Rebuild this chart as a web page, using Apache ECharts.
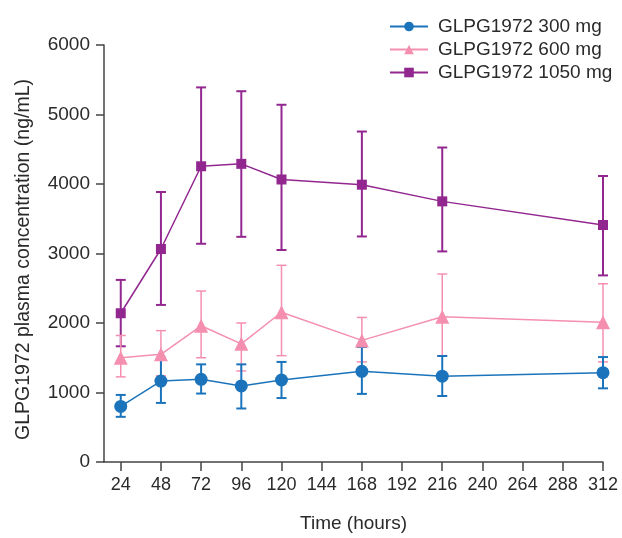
<!DOCTYPE html>
<html>
<head>
<meta charset="utf-8">
<script src="https://cdn.jsdelivr.net/npm/echarts@6/dist/echarts.min.js"></script>
<style>
  html, body { margin: 0; padding: 0; background: #fff; }
  #chart { width: 622px; height: 538px; }
</style>
</head>
<body>
<div id="chart"></div>
<script>
// time points (hours)
var hours = [24, 48, 72, 96, 120, 168, 216, 312];
var xTicks = [24, 48, 72, 96, 120, 144, 168, 192, 216, 240, 264, 288, 312];

// 300 mg
var mean300 = [800, 1165, 1190, 1095, 1180, 1305, 1235, 1285];
var low300 = [650, 850, 985, 770, 920, 980, 950, 1060];
var high300 = [965, 1500, 1405, 1405, 1440, 1655, 1525, 1510];

// 600 mg
var mean600 = [1500, 1550, 1960, 1700, 2155, 1750, 2090, 2010];
var low600 = [1225, 1240, 1500, 1310, 1530, 1440, 1530, 1440];
var high600 = [1820, 1890, 2460, 2000, 2830, 2080, 2705, 2565];

// 1050 mg
var mean1050 = [2140, 3065, 4255, 4290, 4065, 3990, 3750, 3410];
var low1050 = [1665, 2260, 3140, 3240, 3050, 3245, 3030, 2685];
var high1050 = [2620, 3885, 5390, 5335, 5140, 4755, 4525, 4115];

var names = ["GLPG1972 300 mg", "GLPG1972 600 mg", "GLPG1972 1050 mg"];
var colors = ["#1b74bb", "#f48fb0", "#92278f"];

var chart = echarts.init(document.getElementById("chart"));

function pairs(mean) {
  return hours.map(function (h, i) { return [h, mean[i]]; });
}

function errorSeries(low, high, color, lw, z) {
  return {
    type: "custom",
    name: "err",
    z: z,
    silent: true,
    data: hours.map(function (h, i) { return [h, low[i], high[i]]; }),
    encode: { x: 0, y: [1, 2] },
    renderItem: function (params, api) {
      var lo = api.coord([api.value(0), api.value(1)]);
      var hi = api.coord([api.value(0), api.value(2)]);
      var w = 5;
      var st = { stroke: color, lineWidth: lw };
      return {
        type: "group",
        children: [
          { type: "line", shape: { x1: lo[0], y1: lo[1], x2: hi[0], y2: hi[1] }, style: st },
          { type: "line", shape: { x1: lo[0] - w, y1: lo[1], x2: lo[0] + w, y2: lo[1] }, style: st },
          { type: "line", shape: { x1: hi[0] - w, y1: hi[1], x2: hi[0] + w, y2: hi[1] }, style: st }
        ]
      };
    }
  };
}

function lineSeries(name, mean, color, symbol, size, z) {
  return {
    type: "line",
    name: name,
    z: z,
    data: pairs(mean),
    symbol: symbol,
    symbolSize: size,
    showAllSymbol: true,
    color: color,
    lineStyle: { color: color, width: 1.5 },
    itemStyle: { color: color }
  };
}

var txt = "#2a2a2a";
var font = "Liberation Sans, Arial, sans-serif";

var option = {
  animation: false,
  textStyle: { fontFamily: font },
  grid: { left: 104, right: 19, top: 45, bottom: 72 },
  legend: {
    orient: "vertical",
    left: 389,
    top: 17,
    padding: 0,
    data: names,
    itemWidth: 38,
    itemHeight: 12,
    itemGap: 4,
    textStyle: { fontSize: 19, color: txt, fontFamily: font, padding: [0, 0, 0, 5] }
  },
  xAxis: {
    type: "value",
    min: 14,
    max: 312,
    name: "Time (hours)",
    nameLocation: "middle",
    nameGap: 52,
    nameTextStyle: { fontSize: 19, color: txt },
    axisLine: { show: true, lineStyle: { color: "#444", width: 1.5 } },
    axisTick: { show: true, length: 9, customValues: xTicks, lineStyle: { color: "#444", width: 1.5 } },
    axisLabel: { fontSize: 18, color: txt, margin: 14, customValues: xTicks },
    splitLine: { show: false }
  },
  yAxis: {
    type: "value",
    min: 0,
    max: 6000,
    interval: 1000,
    name: "GLPG1972 plasma concentration (ng/mL)",
    nameLocation: "middle",
    nameGap: 70,
    nameTextStyle: { fontSize: 19.5, color: txt, padding: [0, 0, 0, -12] },
    axisLine: { show: true, lineStyle: { color: "#444", width: 1.5 } },
    axisTick: { show: true, length: 8, lineStyle: { color: "#444", width: 1.5 } },
    axisLabel: { fontSize: 19, color: txt, margin: 14, formatter: function (v) { return String(v); } },
    splitLine: { show: false }
  },
  series: [
    errorSeries(low1050, high1050, colors[2], 2, 1),
    errorSeries(low600, high600, colors[1], 1.5, 2),
    errorSeries(low300, high300, colors[0], 2, 3),
    lineSeries(names[2], mean1050, colors[2], "rect", 10, 4),
    lineSeries(names[1], mean600, colors[1], "triangle", 14, 5),
    lineSeries(names[0], mean300, colors[0], "circle", 13, 6)
  ]
};

chart.setOption(option);
</script>
</body>
</html>
